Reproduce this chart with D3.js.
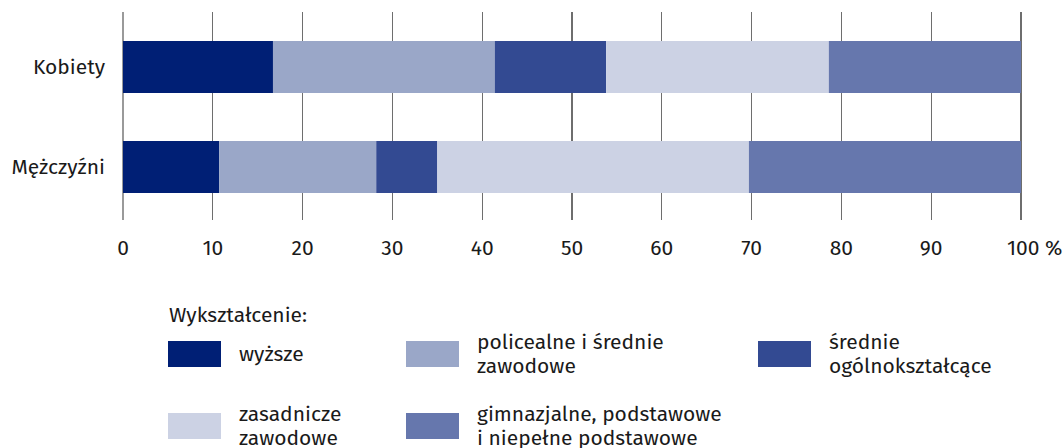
<!DOCTYPE html>
<html><head><meta charset="utf-8">
<script src="https://cdn.jsdelivr.net/npm/d3@7"></script>
<style>body{margin:0;background:#fff}svg{display:block}text{font-family:"Fira Sans","Noto Sans",sans-serif;fill:#1a1a1a}</style>
</head><body>
<script>
const categories = ["Kobiety", "Mężczyźni"];
const seriesNames = ["wyższe", "policealne i średnie zawodowe", "średnie ogólnokształcące", "zasadnicze zawodowe", "gimnazjalne, podstawowe i niepełne podstawowe"];
const wyzsze = [16.7, 10.7];
const policealne = [24.7, 17.5];
const srednieOgolne = [12.4, 6.8];
const zasadnicze = [24.8, 34.7];
const gimnazjalne = [21.4, 30.3];
const tickValues = [0,10,20,30,40,50,60,70,80,90,100];
const tickLabels = ["0","10","20","30","40","50","60","70","80","90","100 %"];
const legendTitle = "Wykształcenie:";
const legendLines = [["wyższe"],["policealne i średnie","zawodowe"],["średnie","ogólnokształcące"],["zasadnicze","zawodowe"],["gimnazjalne, podstawowe","i niepełne podstawowe"]];
const colors = ["#001f75","#9aa7c8","#334a92","#ccd2e4","#6677ad"];

const W=1064,H=448, FS=21;
const svg=d3.select("body").append("svg").attr("width",W).attr("height",H);
const x=d3.scaleLinear().domain([0,100]).range([123,1021]);
const y=d3.scaleBand().domain(categories).range([17,217]).paddingInner(0.48).paddingOuter(0.24);

const stackData=categories.map((c,i)=>{const o={cat:c};[wyzsze,policealne,srednieOgolne,zasadnicze,gimnazjalne].forEach((a,k)=>o["s"+k]=a[i]);return o;});
const stack=d3.stack().keys(seriesNames.map((_,k)=>"s"+k))(stackData);

// grid
svg.append("g").selectAll("line").data(tickValues).join("line")
 .attr("x1",d=>x(d)).attr("x2",d=>x(d)).attr("y1",12).attr("y2",220)
 .attr("stroke",d=>d===0?"#9a9a9a":"#6e6e6e").attr("stroke-width",1.2).attr("shape-rendering","crispEdges");

svg.append("g").selectAll("g").data(stack).join("g").attr("fill",(d,i)=>colors[i])
 .selectAll("rect").data(d=>d).join("rect")
 .attr("x",d=>x(d[0])).attr("width",d=>x(d[1])-x(d[0]))
 .attr("y",d=>y(d.data.cat)).attr("height",y.bandwidth());

// axis labels
svg.append("g").selectAll("text").data(tickValues).join("text")
 .attr("x",d=>x(d)).attr("y",255).attr("text-anchor",(d,i)=>i===tickValues.length-1?"start":"middle")
 .attr("dx",(d,i)=>i===tickValues.length-1?-14:0)
 .attr("font-size",FS).text((d,i)=>tickLabels[i]);

svg.append("g").selectAll("text").data(categories).join("text")
 .attr("x",105).attr("y",d=>y(d)+y.bandwidth()/2+7).attr("text-anchor","end")
 .attr("font-size",FS).text(d=>d);

// legend
svg.append("text").attr("x",169).attr("y",322).attr("font-size",FS).text(legendTitle);
const pos=[[168,341],[406,341],[758,341],[168,413],[406,413]];
const lg=svg.append("g").selectAll("g").data(seriesNames).join("g")
 .attr("transform",(d,i)=>`translate(${pos[i][0]},${pos[i][1]})`);
lg.append("rect").attr("width",53).attr("height",26).attr("fill",(d,i)=>colors[i]);
lg.each(function(d,i){
  const lines=legendLines[i];
  const t=d3.select(this).append("text").attr("x",71).attr("font-size",FS);
  const startY = lines.length===1?20:8;
  lines.forEach((l,j)=>t.append("tspan").attr("x",71).attr("y",startY+j*24).text(l));
});
</script>
</body></html>
